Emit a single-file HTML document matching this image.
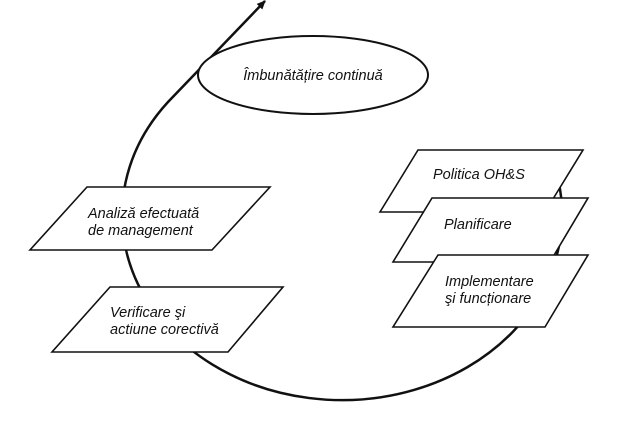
<!DOCTYPE html>
<html><head><meta charset="utf-8"><style>
body{margin:0;background:#fff}
svg text{font-family:"Liberation Sans",sans-serif;font-style:italic;font-size:14.5px;fill:#111}
</style></head><body>
<svg width="637" height="428" viewBox="0 0 637 428" xmlns="http://www.w3.org/2000/svg">
<defs><marker id="a" markerWidth="10" markerHeight="10" refX="8" refY="5" orient="auto" markerUnits="userSpaceOnUse"><path d="M0,1 L9,5 L0,9 Z" fill="#111"/></marker></defs>
<path d="M548,150 A220,185 0 1 1 168,102 L265,1" fill="none" stroke="#111" stroke-width="2.5" marker-end="url(#a)"/>
<ellipse cx="313" cy="75" rx="115" ry="39" fill="#fff" stroke="#111" stroke-width="2"/>
<text x="313" y="80" text-anchor="middle">Îmbunătățire continuă</text>
<g fill="#fff" stroke="#111" stroke-width="1.6">
<polygon points="87,187 270,187 212,250 30,250"/>
<polygon points="110,287 283,287 228,352 52,352"/>
<polygon points="418,150 583,150 545,212 380,212"/>
<polygon points="432,198 588,198 550,262 393,262"/>
<polygon points="438,255 588,255 545,327 393,327"/>
</g>
<text x="88" y="218">Analiză efectuată</text>
<text x="88" y="235">de management</text>
<text x="110" y="317">Verificare şi</text>
<text x="110" y="334">actiune corectivă</text>
<text x="433" y="179">Politica OH&amp;S</text>
<text x="444" y="229">Planificare</text>
<text x="445" y="286">Implementare</text>
<text x="445" y="303">şi funcționare</text>
</svg>
</body></html>
